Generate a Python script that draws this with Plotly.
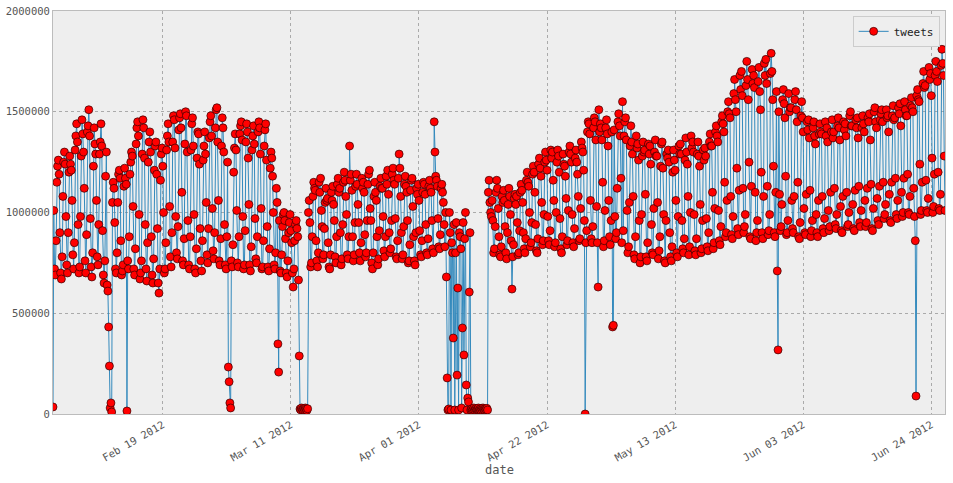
import pandas as pd
import plotly.graph_objects as go

# hourly tweet counts, one row per day,
# sampled every 3h (00,03,06,09,12,15,18,21), in thousands
feb = [
    [35, 1010, 720, 690, 860, 1150, 1230, 1260], [1190, 900, 700, 670, 780, 1080, 1250, 1300],
    [1240, 980, 740, 700, 900, 1200, 1280, 1240], [1210, 1060, 790, 720, 850, 1310, 1380, 1440],
    [1350, 940, 700, 730, 980, 1280, 1460, 1390], [1300, 1120, 760, 700, 890, 1400, 1430, 1510],
    [1380, 970, 730, 680, 800, 1230, 1420, 1340], [1290, 1060, 780, 740, 940, 1290, 1350, 1440],
    [1330, 910, 690, 650, 760, 1180, 1300, 640], [610, 432, 238, 30, 55, 10, 1050, 1150],
    [1120, 950, 720, 700, 800, 1050, 1190, 1210], [1170, 860, 690, 710, 740, 1130, 1220, 1170],
    [1140, 15, 760, 720, 880, 1190, 1250, 1300], [1280, 1030, 720, 690, 820, 1340, 1420, 1450],
    [1380, 990, 670, 700, 760, 1290, 1460, 1420], [1270, 940, 720, 660, 850, 1250, 1350, 1400],
    [1300, 880, 690, 650, 770, 1210, 1330, 1350], [1190, 920, 650, 600, 720, 1160, 1290, 1320],
    [1230, 1000, 700, 720, 850, 1310, 1380, 1440], [1350, 1030, 780, 730, 900, 1350, 1480, 1460],
    [1320, 980, 800, 770, 930, 1410, 1470, 1490], [1420, 1100, 760, 740, 870, 1340, 1500, 1480],
    [1300, 960, 740, 720, 880, 1310, 1440, 1470], [1330, 990, 720, 700, 820, 1270, 1400, 1390],
    [1240, 920, 760, 710, 860, 1260, 1330, 1400], [1290, 1050, 790, 750, 920, 1370, 1450, 1480],
    [1380, 1020, 810, 770, 900, 1420, 1510, 1520], [1350, 1060, 760, 740, 870, 1330, 1470, 1420],
    [1300, 940, 740, 720, 880, 1250, 233, 160],
]
mar = [
    [55, 30, 760, 730, 840, 1200, 1320, 1390], [1310, 1010, 750, 730, 880, 1390, 1430, 1450],
    [1360, 980, 720, 740, 910, 1350, 1440, 1400], [1270, 1040, 740, 710, 830, 1310, 1380, 1430],
    [1340, 970, 770, 750, 880, 1400, 1450, 1420], [1290, 1020, 720, 730, 860, 1330, 1410, 1440],
    [1260, 930, 730, 710, 820, 1220, 1300, 1270], [1180, 1000, 740, 720, 800, 1120, 1050, 348],
    [208, 960, 710, 700, 790, 930, 990, 1000], [960, 870, 700, 680, 760, 900, 950, 990],
    [910, 850, 700, 630, 720, 860, 940, 960], [920, 880, 665, 288, 25, 20, 30, 22],
    [20, 28, 22, 30, 25, 18, 26, 1000], [1060, 950, 730, 750, 880, 1080, 1150, 1120],
    [1110, 860, 760, 730, 800, 1150, 1100, 1170], [1010, 930, 770, 790, 920, 1050, 1120, 1060],
    [1070, 850, 730, 720, 790, 1100, 1060, 1130], [1040, 960, 780, 750, 880, 1140, 1170, 1100],
    [1120, 900, 740, 770, 940, 1150, 1200, 1160], [1080, 990, 790, 770, 880, 1330, 1160, 1190],
    [1110, 880, 760, 790, 950, 1130, 1190, 1140], [1040, 950, 800, 760, 850, 1170, 1120, 1150],
    [1100, 890, 780, 800, 960, 1140, 1190, 1210], [1020, 960, 750, 720, 800, 1080, 1150, 1100],
    [1060, 880, 740, 770, 910, 1130, 1170, 1120], [1120, 980, 810, 780, 880, 1180, 1140, 1210],
    [1090, 900, 800, 820, 960, 1190, 1220, 1160], [1140, 970, 780, 770, 860, 1170, 1290, 1220],
    [1080, 900, 770, 790, 930, 1140, 1180, 1130], [1100, 960, 750, 760, 840, 1110, 1160, 1170],
    [1030, 880, 760, 740, 900, 1120, 1090, 1140],
]
apr = [
    [1060, 910, 790, 780, 860, 1100, 1150, 1140], [1090, 940, 800, 790, 870, 1130, 1160, 1120],
    [1100, 960, 820, 800, 1450, 1300, 1180, 1160], [1130, 970, 830, 820, 890, 1120, 1140, 1100],
    [1050, 940, 830, 1000, 680, 179, 20, 25], [1000, 900, 20, 850, 800, 377, 940, 20],
    [800, 950, 193, 625, 20, 900, 880, 820], [30, 427, 950, 293, 870, 1000, 144, 20],
    [79, 60, 605, 900, 20, 25, 18, 22], [30, 20, 25, 28, 22, 25, 30, 20],
    [25, 20, 28, 22, 30, 24, 20, 26], [22, 28, 20, 1100, 1160, 1050, 1000, 980],
    [1060, 960, 800, 820, 930, 1100, 1160, 1120], [1020, 880, 790, 780, 830, 1080, 1050, 1110],
    [1060, 930, 800, 770, 900, 1040, 1120, 1080], [990, 860, 620, 780, 840, 1070, 1090, 1040],
    [1080, 950, 790, 800, 910, 1100, 1140, 1110], [1050, 900, 820, 800, 870, 1160, 1200, 1150],
    [1130, 1000, 830, 850, 950, 1190, 1230, 1200], [1100, 940, 810, 800, 870, 1240, 1270, 1220],
    [1180, 1050, 840, 860, 990, 1250, 1300, 1260], [1210, 980, 860, 840, 910, 1310, 1270, 1300],
    [1160, 1060, 830, 850, 1000, 1250, 1310, 1280], [1200, 970, 820, 800, 880, 1290, 1240, 1230],
    [1180, 1070, 840, 860, 1010, 1300, 1330, 1290], [1250, 990, 850, 830, 920, 1270, 1310, 1250],
    [1190, 1080, 860, 870, 1020, 1350, 1320, 1300], [1210, 960, 0, 850, 910, 1400, 1450, 1440],
    [1390, 1060, 870, 850, 930, 1420, 1470, 1450], [1360, 1030, 850, 630, 1510, 1400, 1440, 1420],
]
may = [
    [1360, 1150, 830, 860, 1010, 1420, 1460, 1390], [1330, 1060, 880, 840, 960, 1400, 432, 440],
    [1410, 980, 870, 900, 1120, 1450, 1490, 1430], [1380, 1170, 850, 1550, 910, 1380, 1450, 1470],
    [1360, 1010, 800, 830, 1050, 1330, 1430, 1350], [1290, 1080, 790, 770, 880, 1380, 1320, 1340],
    [1260, 960, 750, 780, 990, 1280, 1350, 1300], [1310, 1090, 780, 760, 850, 1340, 1290, 1330],
    [1240, 940, 800, 790, 1020, 1300, 1360, 1280], [1280, 1050, 770, 810, 880, 1230, 1340, 1350],
    [1220, 990, 760, 750, 960, 1290, 1270, 1310], [1250, 900, 780, 760, 830, 1200, 1310, 1260],
    [1210, 1060, 800, 780, 980, 1330, 1290, 1340], [1290, 960, 820, 800, 870, 1260, 1370, 1300],
    [1240, 1080, 790, 830, 1000, 1380, 1320, 1350], [1300, 990, 810, 790, 870, 1290, 1350, 1280],
    [1230, 1040, 800, 820, 960, 1310, 1260, 1320], [1280, 970, 830, 810, 900, 1350, 1390, 1330],
    [1330, 1100, 820, 850, 1020, 1400, 1430, 1380], [1350, 1010, 860, 840, 930, 1450, 1480, 1440],
    [1400, 1150, 880, 900, 1060, 1500, 1550, 1490], [1470, 1080, 890, 870, 980, 1590, 1660, 1560],
    [1500, 1220, 920, 890, 1110, 1680, 1610, 1700], [1580, 1120, 900, 930, 990, 1630, 1750, 1660],
    [1560, 1250, 880, 870, 1130, 1710, 1640, 1680], [1620, 1100, 860, 900, 960, 1650, 1720, 1600],
    [1510, 1200, 900, 870, 1080, 1740, 1680, 1760], [1640, 1130, 890, 910, 990, 1690, 1790, 1700],
    [1560, 1230, 900, 880, 1100, 1600, 710, 318], [1500, 1090, 910, 930, 1040, 1560, 1610, 1540],
    [1470, 1180, 890, 900, 960, 1590, 1500, 1520],
]
jun = [
    [1520, 1060, 920, 900, 1080, 1560, 1600, 1510], [1450, 1150, 880, 870, 950, 1480, 1550, 1470],
    [1400, 1020, 900, 890, 1090, 1450, 1410, 1460], [1370, 1110, 880, 910, 960, 1420, 1450, 1380],
    [1340, 990, 900, 880, 1060, 1390, 1440, 1400], [1390, 1080, 920, 900, 970, 1450, 1380, 1420],
    [1350, 1010, 910, 930, 1100, 1400, 1460, 1370], [1400, 1120, 940, 920, 990, 1430, 1470, 1420],
    [1360, 1030, 910, 900, 1080, 1450, 1410, 1440], [1380, 1100, 930, 940, 1000, 1480, 1500, 1430],
    [1430, 1040, 920, 910, 1110, 1460, 1420, 1470], [1370, 1130, 950, 930, 1010, 1420, 1480, 1440],
    [1400, 1060, 930, 950, 1120, 1470, 1450, 1490], [1360, 1140, 920, 910, 1020, 1500, 1520, 1450],
    [1420, 1070, 960, 940, 1130, 1460, 1490, 1510], [1450, 1150, 970, 990, 1040, 1510, 1470, 1480],
    [1400, 1090, 960, 950, 1150, 1480, 1530, 1460], [1470, 1170, 990, 970, 1060, 1520, 1490, 1540],
    [1430, 1100, 980, 1000, 1170, 1550, 1510, 1480], [1480, 1190, 1000, 990, 1080, 1530, 1570, 1520],
    [1500, 1120, 980, 860, 89, 1580, 1610, 1560], [1550, 1240, 990, 1010, 1150, 1640, 1700, 1620],
    [1630, 1160, 1010, 1000, 1070, 1720, 1660, 1690], [1580, 1270, 1000, 1030, 1190, 1680, 1750, 1700],
    [1650, 1200, 1020, 1010, 1090, 1730, 1810, 1740], [1680, 1280, 1010],
]
tick_dates = ["2012-02-19", "2012-03-11", "2012-04-01", "2012-04-22",
              "2012-05-13", "2012-06-03", "2012-06-24"]
y_ticks = [0, 500000, 1000000, 1500000, 2000000]

tweets = [v * 1000 for month in (feb, mar, apr, may, jun) for day in month for v in day]
dates = pd.date_range("2012-02-01", periods=len(tweets), freq="3h")

fig = go.Figure()
fig.add_trace(go.Scatter(
    x=dates, y=tweets, mode="lines+markers", name="tweets",
    line=dict(color="#348ABD", width=1),
    marker=dict(color="#FF0000", size=8, line=dict(color="#330000", width=0.7)),
))

mono = "DejaVu Sans Mono"
fig.update_layout(
    width=953, height=483,
    margin=dict(l=53, r=8, t=11, b=69, autoexpand=False),
    paper_bgcolor="white", plot_bgcolor="#EEEEEE",
    font=dict(family=mono, color="#555555", size=10.5),
    showlegend=True,
    legend=dict(x=0.994, y=0.988, xanchor="right", yanchor="top",
                bgcolor="#EEEEEE", bordercolor="#CCCCCC", borderwidth=1,
                font=dict(family=mono, size=11, color="#222222")),
    annotations=[dict(text="date", xref="paper", yref="paper", x=0.501, y=-0.139,
                      xanchor="center", yanchor="middle", showarrow=False,
                      font=dict(family=mono, size=12, color="#555555"))],
)
fig.update_xaxes(
    range=[dates[0], dates[-1]], automargin=False,
    tickvals=pd.to_datetime(tick_dates), tickformat="%b %d %Y", tickangle=-30,
    showgrid=True, gridcolor="#AAAAAA", griddash="dot", gridwidth=1,
    showline=True, linecolor="#BCBCBC", mirror=True, zeroline=False,
)
fig.update_yaxes(
    range=[0, 2000000], tickvals=y_ticks, tickformat="d", automargin=False,
    showgrid=True, gridcolor="#AAAAAA", griddash="dot", gridwidth=1,
    showline=True, linecolor="#BCBCBC", mirror=True, zeroline=False,
)

# page body has a default margin; drop it so the figure sits at the window corner
fig.write_html("out.html", config={"displayModeBar": False},
               post_script="document.body.style.margin='0px';")
